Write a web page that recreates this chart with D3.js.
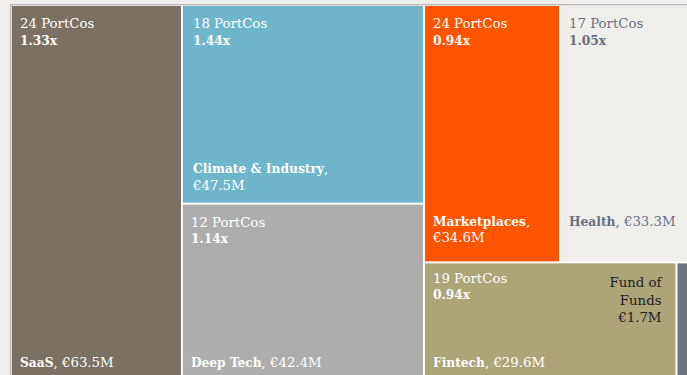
<!DOCTYPE html>
<html>
<head>
<meta charset="utf-8">
<script src="https://cdn.jsdelivr.net/npm/d3@7"></script>
<style>
  html, body { margin: 0; padding: 0; background: #efeeea; overflow: hidden; }
  svg { display: block; }
  text { font-family: "DejaVu Serif", "Liberation Serif", serif; font-size: 13.3px; }
  .b { font-family: "DejaVu Serif Condensed", "DejaVu Serif", serif; font-weight: bold; font-stretch: condensed; font-size: 13.6px; }
</style>
</head>
<body>
<svg id="chart" width="687" height="375"></svg>
<script>
// Committed capital by sector (€M), portfolio company counts and multiples
const sectors   = ["SaaS", "Climate & Industry", "Deep Tech", "Marketplaces", "Health", "Fintech", "Fund of Funds"];
const committed = [63.5, 47.5, 42.4, 34.6, 33.3, 29.6, 1.7];
const portcos   = [24, 18, 12, 24, 17, 19, null];
const multiples = [1.33, 1.44, 1.14, 0.94, 1.05, 0.94, null];

// Arrangement of sectors: columns, and rows inside the third column
const columns = [
  ["SaaS"],
  ["Climate & Industry", "Deep Tech"],
  [["Marketplaces", "Health"], ["Fintech", "Fund of Funds"]]
];

const fills = {
  "SaaS": "#7b7064",
  "Climate & Industry": "#6fb6cd",
  "Deep Tech": "#adadad",
  "Marketplaces": "#ff5400",
  "Health": "#efeeea",
  "Fintech": "#aba577",
  "Fund of Funds": "#6b7282"
};
const inks = { "Health": "#687082", "Fund of Funds": "#1e1e1e" };

const bySector = new Map(sectors.map((s, i) => [s, { name: s, value: committed[i], portcos: portcos[i], multiple: multiples[i] }]));

function build(item, key) {
  if (typeof item === "string") return { ...bySector.get(item) };
  return { name: key, children: item.map((c, i) => build(c, key + "-" + i)) };
}
const tree = { name: "root", children: columns.map((c, i) => build(c, "col" + i)) };

const X0 = 12, Y0 = 6, X1 = 690, Y1 = 380;

const root = d3.hierarchy(tree).sum(d => d.value || 0);
d3.treemap()
  .tile(d3.treemapSliceDice)
  .paddingInner(2)
  .size([X1 - X0, Y1 - Y0])(root);

const svg = d3.select("#chart");

// frame around the map
svg.append("rect")
  .attr("x", X0 - 1.25).attr("y", Y0 - 1.25)
  .attr("width", X1 - X0 + 2.5).attr("height", Y1 - Y0 + 2.5)
  .attr("fill", "#ffffff").attr("stroke", "#b9b9b9").attr("stroke-width", 1.5);

const g = svg.append("g").attr("transform", `translate(${X0},${Y0})`);

const leaves = root.leaves();
const cell = g.selectAll("g.cell").data(leaves).join("g").attr("class", "cell");

cell.append("rect")
  .attr("x", d => d.x0).attr("y", d => d.y0)
  .attr("width", d => d.x1 - d.x0).attr("height", d => d.y1 - d.y0)
  .attr("fill", d => fills[d.data.name]);

const ink = d => inks[d.data.name] || "#ffffff";
const fmtM = v => "€" + d3.format(".1f")(v) + "M";
const fmtX = v => d3.format(".2f")(v) + "x";
const padL = d => d.data.name === "Climate & Industry" ? 10 : 8;

// top-left: company count and multiple
cell.filter(d => d.data.portcos != null).each(function (d) {
  const t = d3.select(this);
  const top = d.y0 + (d.y0 > 200 ? 19.5 : 22);
  t.append("text").attr("x", d.x0 + padL(d)).attr("y", top)
    .attr("fill", ink(d)).text(`${d.data.portcos} PortCos`);
  t.append("text").attr("class", "b").attr("x", d.x0 + padL(d)).attr("y", top + 16.5)
    .attr("fill", ink(d)).text(fmtX(d.data.multiple));
});

// bottom-left: sector name and committed amount
const wrapWidth = 140;
const bottomInset = { "Marketplaces": 19 };
cell.filter(d => d.data.portcos != null).each(function (d) {
  const t = d3.select(this);
  const probe = t.append("text").attr("class", "b").text(d.data.name + ", " + fmtM(d.data.value));
  const wide = probe.node().getComputedTextLength() > wrapWidth;
  probe.remove();
  const inset = bottomInset[d.data.name] || 13;
  let base = d.y1 - inset;
  if (d.data.name === "Health") {
    // shares the first line with its row neighbour
    const nb = leaves.find(o => o.data.name === "Marketplaces");
    base = nb.y1 - bottomInset["Marketplaces"] - 16.5;
  }
  const x = d.x0 + padL(d);
  if (wide) {
    const l1 = t.append("text").attr("x", x).attr("y", base - 16.5).attr("fill", ink(d));
    l1.append("tspan").attr("class", "b").text(d.data.name);
    l1.append("tspan").text(",");
    t.append("text").attr("x", x).attr("y", base).attr("fill", ink(d)).text(fmtM(d.data.value));
  } else {
    const l = t.append("text").attr("x", x).attr("y", base).attr("fill", ink(d));
    l.append("tspan").attr("class", "b").text(d.data.name);
    l.append("tspan").text(", " + fmtM(d.data.value));
  }
});

// the narrow cell is labelled on its left, inside the neighbouring tile
const fof = leaves.find(d => d.data.name === "Fund of Funds");
const fofLines = ["Fund of", "Funds", fmtM(fof.data.value)];
g.append("g").selectAll("text").data(fofLines).join("text")
  .attr("x", fof.x0 - 16)
  .attr("y", (d, i) => fof.y0 + 24 + i * 17.5)
  .attr("text-anchor", "end")
  .attr("fill", inks["Fund of Funds"])
  .text(d => d);
</script>
</body>
</html>
